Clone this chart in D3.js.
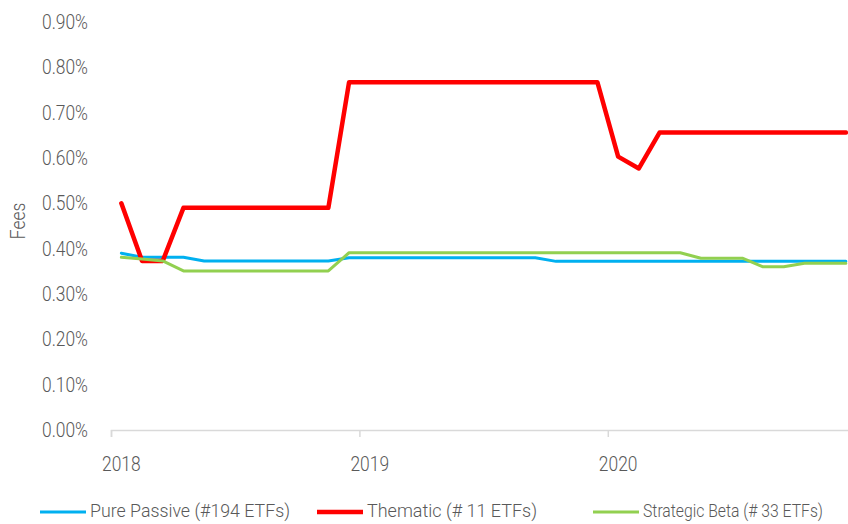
<!DOCTYPE html>
<html>
<head>
<meta charset="utf-8">
<script src="https://cdn.jsdelivr.net/npm/d3@7"></script>
<style>
  body { margin: 0; background: #fff; }
  text { font-family: "Roboto", sans-serif; font-weight: 300; fill: #595959; }
</style>
</head>
<body>
<div id="chart_root"></div>
<script>
// monthly categories Jan 2018 .. Dec 2020
const months = d3.timeMonths(new Date(2018, 0, 1), new Date(2021, 0, 1));
const yearLabels = ["2018", "2019", "2020"];
const yTicks = [0, 0.1, 0.2, 0.3, 0.4, 0.5, 0.6, 0.7, 0.8, 0.9];

const purePassive = [0.39, 0.381, 0.381, 0.381, 0.373, 0.373, 0.373, 0.373, 0.373, 0.373, 0.373,
    0.38, 0.38, 0.38, 0.38, 0.38, 0.38, 0.38, 0.38, 0.38, 0.38,
    0.372, 0.372, 0.372, 0.372, 0.372, 0.372, 0.372, 0.372, 0.372, 0.372, 0.372, 0.372, 0.372, 0.372, 0.372];
const thematic = [0.50, 0.373, 0.373, 0.49, 0.49, 0.49, 0.49, 0.49, 0.49, 0.49, 0.49,
    0.767, 0.767, 0.767, 0.767, 0.767, 0.767, 0.767, 0.767, 0.767, 0.767, 0.767, 0.767, 0.767,
    0.603, 0.577,
    0.656, 0.656, 0.656, 0.656, 0.656, 0.656, 0.656, 0.656, 0.656, 0.656];
const strategicBeta = [0.381, 0.377, 0.373, 0.351, 0.351, 0.351, 0.351, 0.351, 0.351, 0.351, 0.351,
    0.391, 0.391, 0.391, 0.391, 0.391, 0.391, 0.391, 0.391, 0.391, 0.391, 0.391, 0.391, 0.391, 0.391, 0.391, 0.391, 0.391,
    0.379, 0.379, 0.379, 0.36, 0.36, 0.368, 0.368, 0.368];

const series = [
    { name: "Pure Passive (#194 ETFs)", values: purePassive, color: "#00b0f0", width: 3 },
    { name: "Thematic (# 11 ETFs)", values: thematic, color: "#ff0000", width: 4.5 },
    { name: "Strategic Beta (# 33 ETFs)", values: strategicBeta, color: "#92d050", width: 3 }
];

const W = 848, H = 524;
const left = 111, monthW = 20.7;
const squeeze = 0.87; // reference uses a condensed face
const legendX = [40, 317, 593];
const legendTextW = [200, 170, 180];

const svg = d3.select("#chart_root")
    .append("svg")
    .attr("width", W)
    .attr("height", H);

const condense = (sel) => sel.each(function() {
    const len = this.getComputedTextLength();
    d3.select(this)
        .attr("textLength", len * squeeze)
        .attr("lengthAdjust", "spacingAndGlyphs");
});

const x = d3.scaleLinear()
    .domain([-0.5, months.length - 0.5])
    .range([left, left + months.length * monthW]);
const y = d3.scaleLinear()
    .domain([0, 0.9])
    .range([430, 22]);

// y labels (no axis line)
svg.append("g")
    .selectAll("text")
    .data(yTicks)
    .enter()
    .append("text")
    .attr("x", 88)
    .attr("y", d => y(d))
    .attr("dy", "0.35em")
    .attr("text-anchor", "end")
    .style("font-size", "20px")
    .text(d => d.toFixed(2) + "%")
    .call(condense);

svg.append("text")
    .attr("transform", "translate(25,221) rotate(-90)")
    .attr("text-anchor", "middle")
    .style("font-size", "20px")
    .text("Fees")
    .call(condense);

// x axis: ticks between years, labels on January
const xAxis = svg.append("g")
    .attr("transform", "translate(0,430)")
    .call(d3.axisBottom(x)
        .tickValues([-0.5, 11.5, 23.5])
        .tickSize(7)
        .tickFormat(""));
xAxis.select(".domain").attr("stroke", "#d9d9d9").attr("stroke-width", 1.5);
xAxis.selectAll(".tick line").attr("stroke", "#d9d9d9").attr("stroke-width", 1.5);

svg.append("g")
    .selectAll("text")
    .data(yearLabels)
    .enter()
    .append("text")
    .attr("x", (d, i) => x(i * 12))
    .attr("y", 464)
    .attr("dy", "0.35em")
    .attr("text-anchor", "middle")
    .style("font-size", "20px")
    .text(d => d)
    .call(condense);

const line = d3.line()
    .x((d, i) => x(i))
    .y(d => y(d));

svg.append("g")
    .selectAll("path")
    .data(series)
    .enter()
    .append("path")
    .attr("d", d => line(d.values))
    .attr("fill", "none")
    .attr("stroke", d => d.color)
    .attr("stroke-width", d => d.width)
    .attr("stroke-linejoin", "round")
    .attr("stroke-linecap", "round");

// legend
const legend = svg.append("g")
    .selectAll("g")
    .data(series)
    .enter()
    .append("g")
    .attr("transform", (d, i) => "translate(" + legendX[i] + ",512)");
legend.append("line")
    .attr("x1", 0).attr("x2", 46)
    .attr("stroke", d => d.color)
    .attr("stroke-width", d => d.width);
legend.append("text")
    .attr("x", 50)
    .attr("dy", "0.3em")
    .style("font-size", "18px")
    .attr("textLength", (d, i) => legendTextW[i])
    .attr("lengthAdjust", "spacingAndGlyphs")
    .text(d => d.name);
</script>
</body>
</html>
